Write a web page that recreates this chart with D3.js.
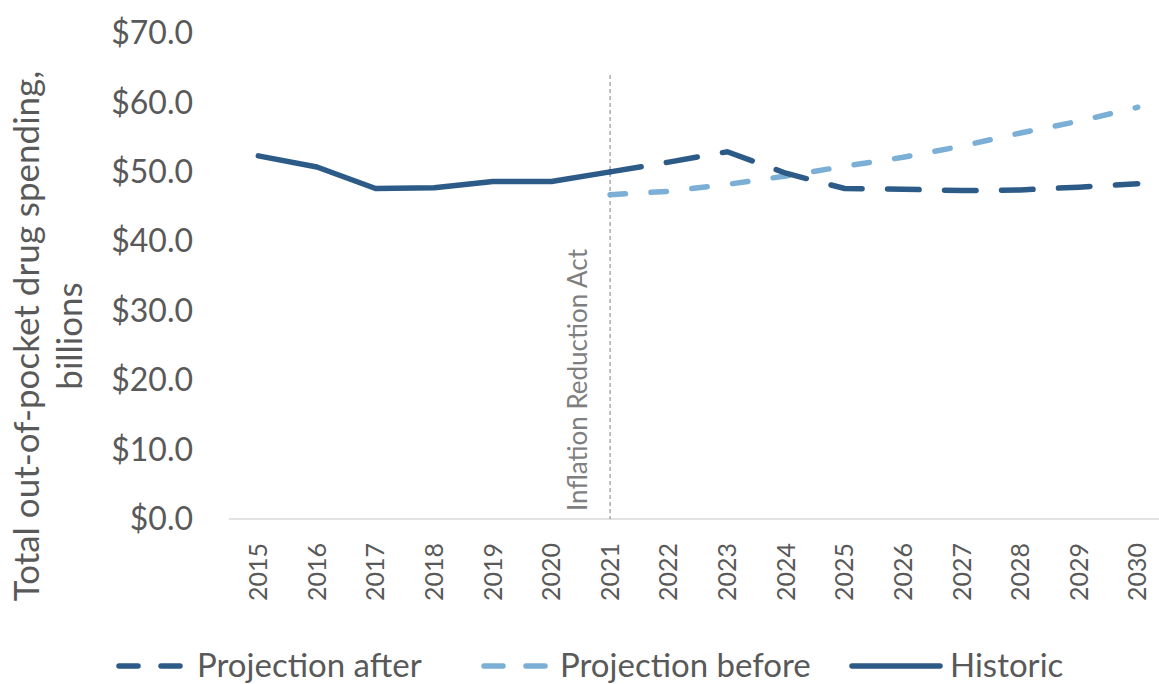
<!DOCTYPE html>
<html>
<head>
<meta charset="utf-8">
<script src="https://cdn.jsdelivr.net/npm/d3@7/dist/d3.min.js"></script>
<style>
  html, body { margin: 0; padding: 0; background: #fff; }
  svg { display: block; font-family: Lato, "Open Sans", sans-serif; font-weight: 400; }
</style>
</head>
<body>
<svg id="chart" width="1159" height="684"></svg>
<script>
// Out-of-pocket drug spending, $ billions
const years = ["2015","2016","2017","2018","2019","2020","2021","2022","2023","2024","2025","2026","2027","2028","2029","2030"];
const historicYears = ["2015","2016","2017","2018","2019","2020","2021"];
const historic = [52.3, 50.7, 47.6, 47.7, 48.6, 48.6, 50.0];
const projectionYears = ["2021","2022","2023","2024","2025","2026","2027","2028","2029","2030"];
const projectionAfter = [50.0, 51.4, 52.9, 49.8, 47.6, 47.5, 47.3, 47.4, 47.8, 48.3];
const projectionBefore = [46.7, 47.2, 48.2, 49.4, 50.8, 52.1, 53.7, 55.6, 57.3, 59.3];
const yTicks = [0, 10, 20, 30, 40, 50, 60, 70];
const markerYear = "2021";
const markerLabel = "Inflation Reduction Act";
const yTitle = ["Total out-of-pocket drug spending,", "billions"];

const dark = "#2d5b88", light = "#7bafd6", textGray = "#595959";

const svg = d3.select("#chart");
const plot = { left: 229, right: 1167, top: 33, bottom: 519 };

const x = d3.scalePoint().domain(years).range([plot.left, plot.right]).padding(0.5);
const y = d3.scaleLinear().domain([0, 70]).range([plot.bottom, plot.top]);

// y axis labels
svg.append("g").selectAll("text").data(yTicks).join("text")
  .attr("x", 193).attr("y", d => y(d)).attr("dy", "0.35em")
  .attr("text-anchor", "end").attr("fill", textGray)
  .style("font-size", "32px")
  .text(d => "$" + d3.format(".1f")(d));

// baseline
svg.append("line")
  .attr("x1", plot.left).attr("x2", 1159)
  .attr("y1", y(0)).attr("y2", y(0))
  .attr("stroke", "#d9d9d9").attr("stroke-width", 1.5);

// x axis labels (rotated)
svg.append("g").selectAll("text").data(years).join("text")
  .attr("transform", d => `translate(${x(d)},543) rotate(-90)`)
  .attr("dy", "0.35em").attr("text-anchor", "end").attr("fill", textGray)
  .style("font-size", "25px")
  .text(d => d);

// y title
const yt = svg.append("text").attr("fill", textGray).style("font-size", "35px")
  .attr("text-anchor", "middle")
  .attr("transform", "translate(27,336) rotate(-90)");
yt.selectAll("tspan").data(yTitle).join("tspan")
  .attr("x", 0).attr("dy", (d, i) => i === 0 ? "0.35em" : "1.22em")
  .text(d => d);

// event marker
svg.append("line")
  .attr("x1", x(markerYear)).attr("x2", x(markerYear))
  .attr("y1", 75).attr("y2", y(0))
  .attr("stroke", "#7f7f7f").attr("stroke-width", 1)
  .attr("stroke-dasharray", "4,3");
svg.append("text")
  .attr("transform", `translate(${x(markerYear) - 32},511) rotate(-90)`)
  .attr("dy", "0.35em").attr("fill", "#7f7f7f").style("font-size", "26px")
  .text(markerLabel);

const line = d3.line().x(d => x(d[0])).y(d => y(d[1]));

svg.append("path")
  .datum(d3.zip(projectionYears, projectionBefore))
  .attr("d", line).attr("fill", "none").attr("stroke", light)
  .attr("stroke-width", 5.5).attr("stroke-linecap", "round")
  .attr("stroke-dasharray", "15.5,25.5");

svg.append("path")
  .datum(d3.zip(projectionYears, projectionAfter))
  .attr("d", line).attr("fill", "none").attr("stroke", dark)
  .attr("stroke-width", 5.5).attr("stroke-linecap", "round")
  .attr("stroke-dasharray", "31.5,25.5");

svg.append("path")
  .datum(d3.zip(historicYears, historic))
  .attr("d", line).attr("fill", "none").attr("stroke", dark)
  .attr("stroke-width", 5.5).attr("stroke-linejoin", "round").attr("stroke-linecap", "round");

// legend
const legend = [
  { name: "Projection after", color: dark, dash: "19,23", x1: 119, x2: 183, tx: 197 },
  { name: "Projection before", color: light, dash: "19,23", x1: 484, x2: 548, tx: 560 },
  { name: "Historic", color: dark, dash: null, x1: 852, x2: 940, tx: 950 }
];
const ly = 665;
const lg = svg.append("g");
legend.forEach(l => {
  lg.append("line").attr("x1", l.x1).attr("x2", l.x2).attr("y1", ly + 1).attr("y2", ly + 1)
    .attr("stroke", l.color).attr("stroke-width", 5.5).attr("stroke-linecap", "round")
    .attr("stroke-dasharray", l.dash);
  lg.append("text").attr("x", l.tx).attr("y", ly).attr("dy", "0.35em")
    .attr("fill", textGray).style("font-size", "33px").text(l.name);
});
</script>
</body>
</html>
